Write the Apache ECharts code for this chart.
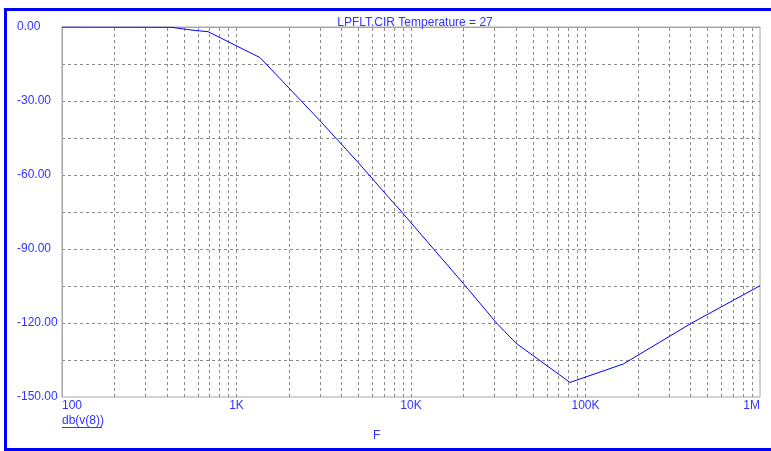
<!DOCTYPE html>
<html>
<head>
<meta charset="utf-8">
<script src="https://cdn.jsdelivr.net/npm/echarts@6/dist/echarts.min.js"></script>
<style>
  html, body { margin: 0; padding: 0; background: #ffffff; }
  #chart { width: 771px; height: 451px; }
</style>
</head>
<body>
<div id="chart"></div>
<script>
// AC sweep of the low-pass filter: frequency (Hz) and gain of v(8) in dB
const freqHz = [100, 421, 578, 687, 1364, 2982, 4990, 7580, 8650, 19900, 31000, 40000, 81500, 165000, 406000, 1000000];
const gainDb = [0, -0.1, -1.4, -1.9, -12.4, -37.7, -55.0, -69.7, -74.2, -103.9, -120.1, -128.2, -144.1, -136.6, -120.0, -104.9];

// Axis ranges and tick labels
const freqMin = 100, freqMax = 1000000;
const dbMin = -150, dbMax = 0, dbStep = 30;
const freqTickLabels = { 100: '100', 1000: '1K', 10000: '10K', 100000: '100K', 1000000: '1M' };

const titleText = 'LPFLT.CIR Temperature = 27';
const traceName = 'db(v(8))';
const xName = 'F';

const blue = '#0000ff';
const textBlue = '#3333ff';
const gridGray = '#8a8a8a';
const font = "'Liberation Sans', Arial, sans-serif";

// vertical log grid: 1..9 x each decade, edges excluded (drawn by the frame)
const logGrid = [];
for (let d = 100; d < freqMax; d *= 10) {
  for (let k = 1; k <= 9; k++) {
    const f = k * d;
    if (f > freqMin && f < freqMax) logGrid.push({ xAxis: f });
  }
}

const chart = echarts.init(document.getElementById('chart'), null, { renderer: 'canvas' });

chart.setOption({
  backgroundColor: '#ffffff',
  animation: false,
  title: {
    text: titleText,
    left: 410,
    top: 12,
    textAlign: 'center',
    textStyle: { color: textBlue, fontFamily: font, fontSize: 12, fontWeight: 'normal' }
  },
  grid: {
    left: 62, right: 11, top: 27, bottom: 54,
    show: true,
    borderColor: '#a6a6a6',
    borderWidth: 1,
    backgroundColor: '#ffffff'
  },
  xAxis: {
    type: 'log',
    logBase: 10,
    min: freqMin,
    max: freqMax,
    axisLine: { show: true, lineStyle: { color: '#a6a6a6', width: 1 } },
    axisTick: { show: false },
    splitLine: { show: false },
    axisLabel: {
      color: textBlue,
      fontFamily: font,
      fontSize: 12,
      margin: 3,
      alignMinLabel: 'left',
      alignMaxLabel: 'right',
      formatter: v => freqTickLabels[Math.round(v)] || ''
    }
  },
  yAxis: {
    type: 'value',
    min: dbMin,
    max: dbMax,
    interval: dbStep,
    axisLine: { show: true, lineStyle: { color: '#a6a6a6', width: 1 } },
    axisTick: { show: false },
    splitLine: {
      show: true,
      showMinLine: false,
      showMaxLine: false,
      lineStyle: { color: gridGray, type: [3, 3], width: 1 }
    },
    minorTick: { show: false, splitNumber: 2 },
    minorSplitLine: {
      show: true,
      lineStyle: { color: gridGray, type: [3, 3], width: 1 }
    },
    axisLabel: {
      color: textBlue,
      fontFamily: font,
      fontSize: 12,
      align: 'left',
      margin: 45,
      formatter: v => v.toFixed(2)
    }
  },
  series: [
    {
      // log-spaced vertical grid lines
      type: 'line',
      data: [],
      z: 1,
      silent: true,
      markLine: {
        silent: true,
        symbol: ['none', 'none'],
        label: { show: false },
        animation: false,
        lineStyle: { color: gridGray, type: [3, 3], width: 1 },
        emphasis: { disabled: true },
        data: logGrid
      }
    },
    {
      name: traceName,
      type: 'line',
      z: 5,
      showSymbol: false,
      symbol: 'none',
      lineStyle: { color: blue, width: 1 },
      data: freqHz.map((f, i) => [f, gainDb[i]])
    }
  ],
  graphic: [
    // blue window frame
    { type: 'rect', shape: { x: 4, y: 8, width: 767, height: 3 }, style: { fill: blue }, silent: true },
    { type: 'rect', shape: { x: 4, y: 8, width: 3, height: 443 }, style: { fill: blue }, silent: true },
    { type: 'rect', shape: { x: 4, y: 448, width: 767, height: 3 }, style: { fill: blue }, silent: true },
    // trace label, underlined
    {
      type: 'text', left: 62, top: 415,
      style: { text: traceName, fill: textBlue, font: '12px ' + font }
    },
    { type: 'line', shape: { x1: 62, y1: 427.5, x2: 102, y2: 427.5 }, style: { stroke: textBlue, lineWidth: 1 }, silent: true },
    // x variable name
    {
      type: 'text', left: 373, top: 430,
      style: { text: xName, fill: textBlue, font: '12px ' + font }
    }
  ]
});
</script>
</body>
</html>
